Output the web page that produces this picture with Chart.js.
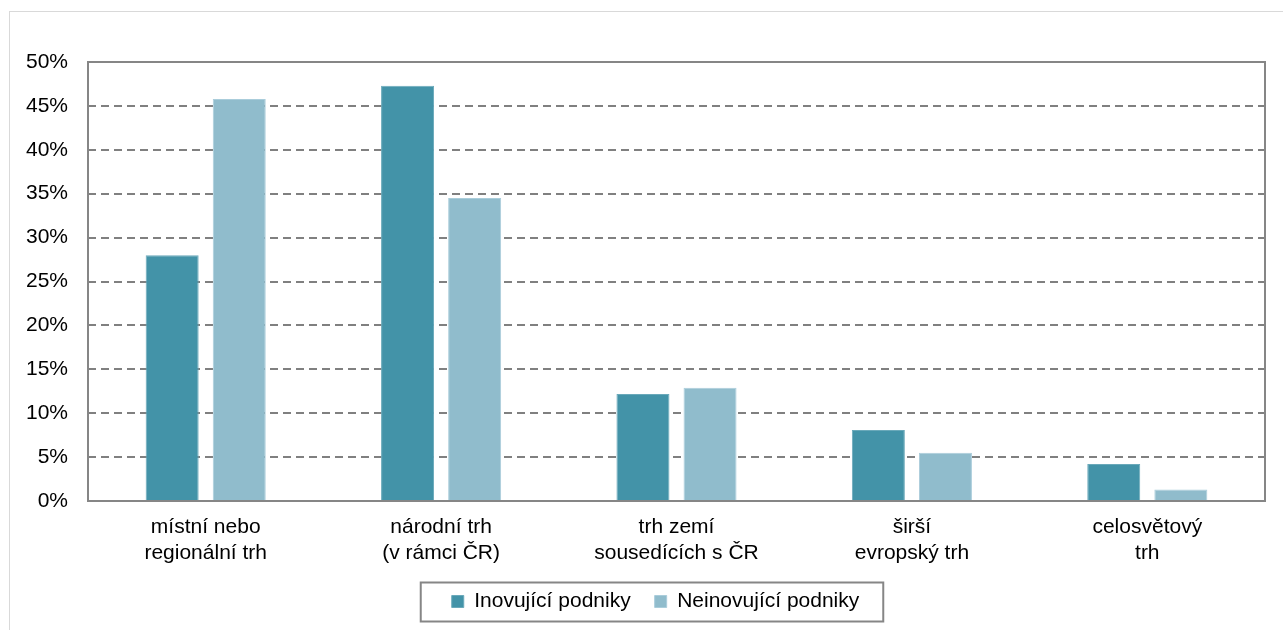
<!DOCTYPE html>
<html>
<head>
<meta charset="utf-8">
<script src="https://cdn.jsdelivr.net/npm/chart.js@4"></script>
<style>
  body { margin: 0; background: #fff; }
  #frame { position: absolute; left: 9px; top: 11px; width: 1300px; height: 700px; border: 1px solid #d9d9d9; }
  #wrap { position: absolute; left: 0; top: 0; width: 1283px; height: 630px; }
</style>
</head>
<body>
<div id="frame"></div>
<div id="wrap"><canvas id="chart"></canvas></div>
<script>
// categories (two-line labels)
const categories = [
  ['místní nebo', 'regionální trh'],
  ['národní trh', '(v rámci ČR)'],
  ['trh zemí', 'sousedících s ČR'],
  ['širší', 'evropský trh'],
  ['celosvětový', 'trh']
];
// share of enterprises, %
const inovujici = [28.0, 47.3, 12.2, 8.1, 4.2];
const neinovujici = [45.8, 34.5, 12.9, 5.5, 1.3];
const yTicks = [0, 5, 10, 15, 20, 25, 30, 35, 40, 45, 50];

const font = { family: 'Liberation Sans, Arial, sans-serif', size: 21 };

// frame around plot area + box around legend
const framePlugin = {
  id: 'frames',
  afterUpdate(chart) {
    // legend sits a bit right of the canvas centre in the original
    const lg = chart.legend;
    lg.left += 23;
    lg.right += 23;
    lg.legendHitBoxes.forEach(h => { h.left += 23; });
  },
  afterDraw(chart) {
    const ctx = chart.ctx;
    const a = chart.chartArea;
    ctx.save();
    ctx.strokeStyle = '#868686';
    ctx.lineWidth = 2;
    ctx.strokeRect(a.left, a.top, a.right - a.left, a.bottom - a.top);
    const boxes = chart.legend.legendHitBoxes;
    if (boxes && boxes.length) {
      const first = boxes[0], last = boxes[boxes.length - 1];
      const x0 = first.left - 31, x1 = last.left + last.width + 24;
      const yc = first.top + first.height / 2;
      ctx.strokeRect(x0, yc - 19, x1 - x0, 39);
    }
    ctx.restore();
  }
};

new Chart(document.getElementById('chart'), {
  type: 'bar',
  data: {
    labels: categories,
    datasets: [
      {
        label: 'Inovující podniky',
        data: inovujici,
        backgroundColor: '#4393a8',
        borderColor: '#6aa9ba',
        borderWidth: 1,
        categoryPercentage: 0.57,
        barPercentage: 0.79
      },
      {
        label: 'Neinovující podniky',
        data: neinovujici,
        backgroundColor: '#90bccc',
        borderColor: '#aacddb',
        borderWidth: 1,
        categoryPercentage: 0.57,
        barPercentage: 0.79
      }
    ]
  },
  options: {
    responsive: true,
    maintainAspectRatio: false,
    animation: false,
    layout: { padding: { top: 62, right: 18, left: 0, bottom: 8 } },
    plugins: {
      tooltip: { enabled: false },
      legend: {
        position: 'bottom',
        labels: {
          color: '#000',
          font: font,
          boxWidth: 12,
          boxHeight: 12,
          padding: 24
        }
      }
    },
    scales: {
      x: {
        grid: { display: false, drawTicks: false },
        border: { display: false },
        ticks: { color: '#000', font: font, padding: 14, maxRotation: 0 },
        afterFit: (s) => { s.height = 66; }
      },
      y: {
        min: 0,
        max: 50,
        afterBuildTicks: (s) => { s.ticks = yTicks.map(v => ({ value: v })); },
        grid: { color: '#808080', lineWidth: 2, drawTicks: false },
        border: { display: false, dash: [8, 5] },
        ticks: {
          color: '#000',
          font: font,
          padding: 20,
          callback: (v) => v + '%'
        },
        afterFit: (s) => { s.width = 88; }
      }
    }
  },
  plugins: [framePlugin]
});
</script>
</body>
</html>
